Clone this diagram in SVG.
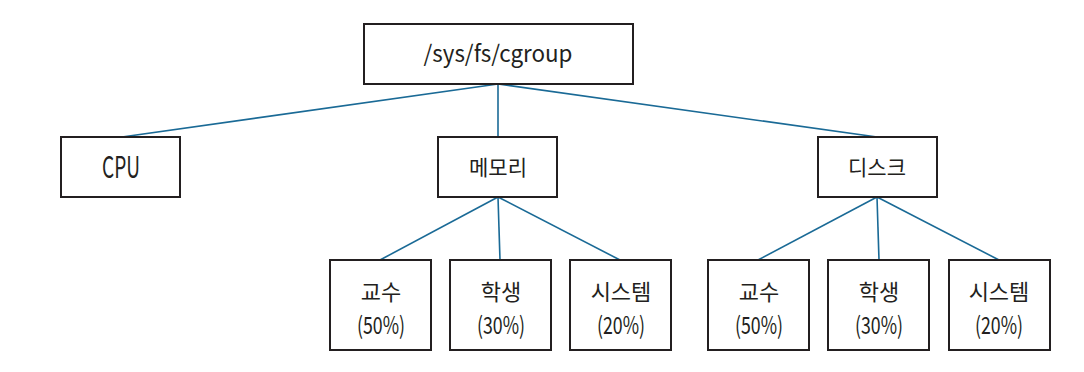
<svg xmlns="http://www.w3.org/2000/svg" width="1084" height="372" viewBox="0 0 1084 372">
<style>
.box{fill:#fff;stroke:#231f20;stroke-width:2}
.t{font-family:"Noto Sans CJK KR","Noto Sans",sans-serif;fill:#231f20;text-anchor:middle}
.k{font-size:22px}
.p{font-size:24px}
.l{stroke:#1a6a96;stroke-width:1.6;fill:none}
</style>
<rect width="1084" height="372" fill="#fff"/>
<g id="connectors">
<line class="l" x1="498" y1="84" x2="122" y2="137"/>
<line class="l" x1="498" y1="84" x2="498" y2="137"/>
<line class="l" x1="498" y1="84" x2="877" y2="137"/>
<line class="l" x1="498" y1="197" x2="380" y2="260"/>
<line class="l" x1="498" y1="197" x2="500" y2="260"/>
<line class="l" x1="498" y1="197" x2="620" y2="260"/>
<line class="l" x1="877" y1="197" x2="758" y2="260"/>
<line class="l" x1="877" y1="197" x2="879" y2="260"/>
<line class="l" x1="877" y1="197" x2="999" y2="260"/>
</g>
<g id="root"><rect class="box" x="364" y="24" width="269" height="60"/><text class="t" x="498" y="62" font-size="23" textLength="149" lengthAdjust="spacingAndGlyphs">/sys/fs/cgroup</text></g>
<g id="cpu"><rect class="box" x="61" y="137" width="119" height="60"/><text class="t" x="121" y="177.5" font-size="30" textLength="38" lengthAdjust="spacingAndGlyphs">CPU</text></g>
<g id="mem"><rect class="box" x="438" y="137" width="119" height="60"/><text class="t" x="498" y="175" font-size="21">메모리</text></g>
<g id="disk"><rect class="box" x="818" y="137" width="119" height="60"/><text class="t" x="877" y="175" font-size="21">디스크</text></g>
<g id="m1"><rect class="box" x="330" y="260" width="101" height="90"/><text class="t k" x="381" y="300">교수</text><text class="t p" x="381" y="334" textLength="48" lengthAdjust="spacingAndGlyphs">(50%)</text></g>
<g id="m2"><rect class="box" x="450" y="260" width="101" height="90"/><text class="t k" x="501" y="300">학생</text><text class="t p" x="501" y="334" textLength="48" lengthAdjust="spacingAndGlyphs">(30%)</text></g>
<g id="m3"><rect class="box" x="570" y="260" width="101" height="90"/><text class="t k" x="621" y="300">시스템</text><text class="t p" x="621" y="334" textLength="48" lengthAdjust="spacingAndGlyphs">(20%)</text></g>
<g id="d1"><rect class="box" x="708" y="260" width="101" height="90"/><text class="t k" x="759" y="300">교수</text><text class="t p" x="759" y="334" textLength="48" lengthAdjust="spacingAndGlyphs">(50%)</text></g>
<g id="d2"><rect class="box" x="828" y="260" width="101" height="90"/><text class="t k" x="879" y="300">학생</text><text class="t p" x="879" y="334" textLength="48" lengthAdjust="spacingAndGlyphs">(30%)</text></g>
<g id="d3"><rect class="box" x="949" y="260" width="101" height="90"/><text class="t k" x="999" y="300">시스템</text><text class="t p" x="999" y="334" textLength="48" lengthAdjust="spacingAndGlyphs">(20%)</text></g>
</svg>
